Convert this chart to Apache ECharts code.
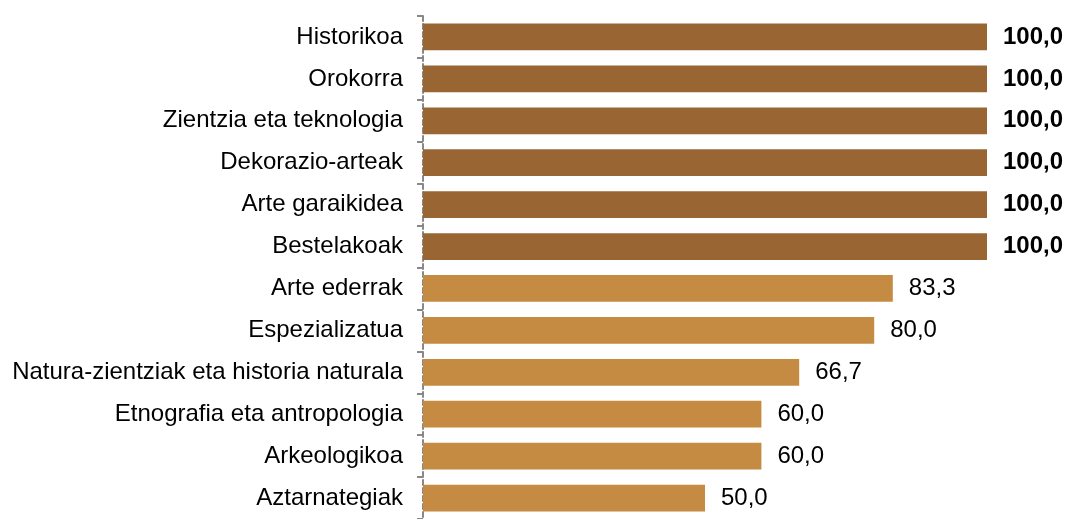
<!DOCTYPE html>
<html>
<head>
<meta charset="utf-8">
<style>
  html, body { margin: 0; padding: 0; background: #fff; }
  #chart { width: 1067px; height: 519px; }
</style>
<script src="https://cdn.jsdelivr.net/npm/echarts@6/dist/echarts.min.js"></script>
</head>
<body>
<div id="chart"></div>
<script>
// Museo motak (goitik behera)
const categories = [
  'Historikoa',
  'Orokorra',
  'Zientzia eta teknologia',
  'Dekorazio-arteak',
  'Arte garaikidea',
  'Bestelakoak',
  'Arte ederrak',
  'Espezializatua',
  'Natura-zientziak eta historia naturala',
  'Etnografia eta antropologia',
  'Arkeologikoa',
  'Aztarnategiak'
];

const values = [100, 100, 100, 100, 100, 100, 83.3, 80, 66.7, 60, 60, 50];

// 100 duten barrak kolore ilunagoarekin eta etiketa lodiarekin
const fullColor = '#996633';
const partColor = '#C68B42';

const chart = echarts.init(document.getElementById('chart'));

chart.setOption({
  animation: false,
  grid: {
    left: 423,
    right: 80,
    top: 16,
    bottom: -3
  },
  xAxis: {
    type: 'value',
    min: 0,
    max: 100,
    show: false
  },
  yAxis: {
    type: 'category',
    inverse: true,
    data: categories,
    axisLine: {
      lineStyle: { color: '#888', width: 2, type: [5, 3] }
    },
    axisTick: {
      show: true,
      length: 6,
      lineStyle: { color: '#888', width: 2 }
    },
    axisLabel: {
      margin: 20,
      color: '#000',
      fontFamily: 'Liberation Sans, Arial, sans-serif',
      fontSize: 24
    }
  },
  series: [{
    type: 'bar',
    barCategoryGap: '36%',
    data: values.map(v => ({
      value: v,
      itemStyle: { color: v >= 100 ? fullColor : partColor },
      label: { fontWeight: v >= 100 ? 'bold' : 'normal' }
    })),
    label: {
      show: true,
      position: 'right',
      distance: 16,
      color: '#000',
      fontFamily: 'Liberation Sans, Arial, sans-serif',
      fontSize: 24,
      formatter: p => p.value.toFixed(1).replace('.', ',')
    }
  }]
});
</script>
</body>
</html>
